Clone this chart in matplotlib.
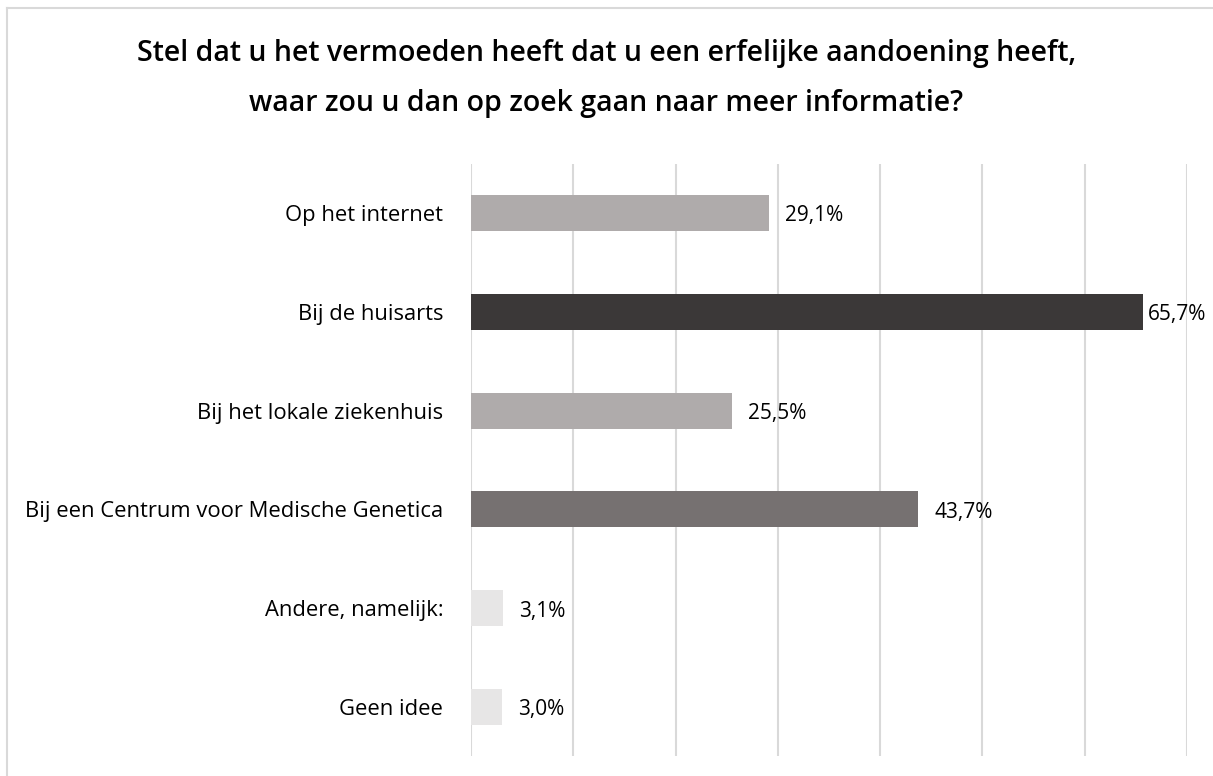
import matplotlib
matplotlib.use("Agg")
import matplotlib.pyplot as plt
from matplotlib.lines import Line2D

# data
categories = [
    "Op het internet",
    "Bij de huisarts",
    "Bij het lokale ziekenhuis",
    "Bij een Centrum voor Medische Genetica",
    "Andere, namelijk:",
    "Geen idee",
]
values = [29.1, 65.7, 25.5, 43.7, 3.1, 3.0]
value_labels = ["29,1%", "65,7%", "25,5%", "43,7%", "3,1%", "3,0%"]
bar_colors = ["#AFABAB", "#3B3838", "#AFABAB", "#767171", "#E7E6E6", "#E7E6E6"]

W, H = 1213, 776
fig = plt.figure(figsize=(W / 100, H / 100), dpi=100)
fig.patch.set_facecolor("white")
plt.rcParams["font.family"] = ["Open Sans", "DejaVu Sans"]

# plot area in pixel coords
left, right, top, bottom = 471, 1187, 163.6, 756.4
ax = fig.add_axes([left / W, 1 - bottom / H, (right - left) / W, (bottom - top) / H])

y = list(range(len(categories)))
ax.barh(y, values, height=0.365, color=bar_colors, zorder=3)
ax.set_ylim(len(categories) - 0.5, -0.5)
ax.set_xlim(0, 70)
ax.set_xticks(range(0, 71, 10))
ax.set_xticklabels([])
ax.tick_params(axis="x", length=0)
ax.tick_params(axis="y", length=0, pad=20, labelsize=15.8, labelcolor="#000000")
ax.set_yticks(y)
ax.set_yticklabels(categories)
ax.grid(axis="x", color="#D9D9D9", lw=1.5, zorder=0)
for s in ax.spines.values():
    s.set_visible(False)

for yi, v, lbl in zip(y, values, value_labels):
    # the longest bar has its label pushed up against the bar end
    xl = v + 1.6 if v < 60 else v + 0.5
    ax.text(xl, yi + 0.03, lbl, va="center", ha="left", fontsize=15, color="#000000")

# title
fig.text(0.5, 1 - 53 / H, "Stel dat u het vermoeden heeft dat u een erfelijke aandoening heeft,",
         ha="center", va="center", fontsize=20.5, fontweight="semibold", color="#000000")
fig.text(0.5, 1 - 103 / H, "waar zou u dan op zoek gaan naar meer informatie?",
         ha="center", va="center", fontsize=20.5, fontweight="semibold", color="#000000")

# outer frame (left and top edges visible)
fig.add_artist(Line2D([7 / W, 7 / W], [0, 1 - 8 / H], color="#D9D9D9", lw=1.5,
                      transform=fig.transFigure))
fig.add_artist(Line2D([7 / W, 1], [1 - 8 / H, 1 - 8 / H], color="#D9D9D9", lw=1.5,
                      transform=fig.transFigure))

fig.savefig("out.png", dpi=100, facecolor="white")
